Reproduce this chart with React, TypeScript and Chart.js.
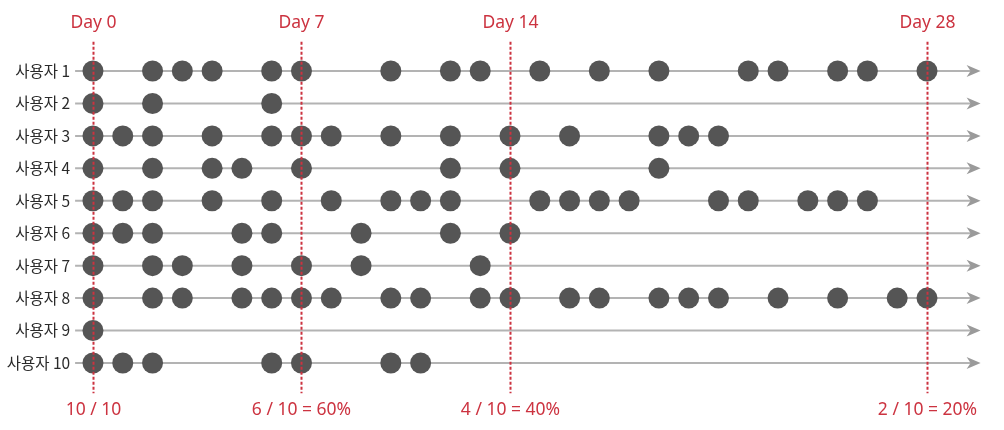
import React, { useEffect, useRef } from "react";
import { Chart, registerables } from "chart.js";

Chart.register(...registerables);

const userLabels = ["사용자 1", "사용자 2", "사용자 3", "사용자 4", "사용자 5", "사용자 6", "사용자 7", "사용자 8", "사용자 9", "사용자 10"];

const user1 = [0, 2, 3, 4, 6, 7, 10, 12, 13, 15, 17, 19, 22, 23, 25, 26, 28];
const user2 = [0, 2, 6];
const user3 = [0, 1, 2, 4, 6, 7, 8, 10, 12, 14, 16, 19, 20, 21];
const user4 = [0, 2, 4, 5, 7, 12, 14, 19];
const user5 = [0, 1, 2, 4, 6, 8, 10, 11, 12, 15, 16, 17, 18, 21, 22, 24, 25, 26];
const user6 = [0, 1, 2, 5, 6, 9, 12, 14];
const user7 = [0, 2, 3, 5, 7, 9, 13];
const user8 = [0, 2, 3, 5, 6, 7, 8, 10, 11, 13, 14, 16, 17, 19, 20, 21, 23, 25, 27, 28];
const user9 = [0];
const user10 = [0, 1, 2, 6, 7, 10, 11];

const userDays = [user1, user2, user3, user4, user5, user6, user7, user8, user9, user10];

const markerDays = [0, 7, 14, 28];
const markerTopLabels = ["Day 0", "Day 7", "Day 14", "Day 28"];
const markerBottomLabels = ["10 / 10", "6 / 10 = 60%", "4 / 10 = 40%", "2 / 10 = 20%"];

const RED = "#cc3340";
const DOT = "#555555";
const LINE = "#b3b3b3";

const rowLinesPlugin = {
  id: "rowLines",
  beforeDatasetsDraw(chart: any) {
    const { ctx, chartArea, scales } = chart;
    const y = scales.y;
    ctx.save();
    for (let i = 1; i <= userLabels.length; i++) {
      const py = y.getPixelForValue(i);
      const x0 = chartArea.left;
      const x1 = chartArea.right;
      ctx.strokeStyle = LINE;
      ctx.lineWidth = 2;
      ctx.beginPath();
      ctx.moveTo(x0, py);
      ctx.lineTo(x1 - 8, py);
      ctx.stroke();
      ctx.fillStyle = "#9a9a9a";
      ctx.beginPath();
      ctx.moveTo(x1, py);
      ctx.lineTo(x1 - 14, py - 6);
      ctx.lineTo(x1 - 10, py);
      ctx.lineTo(x1 - 14, py + 6);
      ctx.closePath();
      ctx.fill();
    }
    ctx.restore();
  },
};

const markerPlugin = {
  id: "markers",
  afterDatasetsDraw(chart: any) {
    const { ctx, chartArea, scales } = chart;
    const x = scales.x;
    const y = scales.y;
    ctx.save();
    markerDays.forEach((d, i) => {
      const px = Math.round(x.getPixelForValue(d)) + 0.5;
      ctx.strokeStyle = RED;
      ctx.lineWidth = 2;
      ctx.setLineDash([3, 2]);
      ctx.beginPath();
      ctx.moveTo(px, y.getPixelForValue(0.1));
      ctx.lineTo(px, y.getPixelForValue(10.93));
      ctx.stroke();
      ctx.setLineDash([]);
      ctx.fillStyle = RED;
      ctx.font = "17.5px 'Noto Sans'";
      ctx.textAlign = "center";
      ctx.textBaseline = "middle";
      ctx.fillText(markerTopLabels[i], px, chartArea.top - 16);
      ctx.fillText(markerBottomLabels[i], px, chartArea.bottom + 15);
    });
    ctx.restore();
  },
};

export default function App() {
  const canvasRef = useRef<HTMLCanvasElement | null>(null);

  useEffect(() => {
    document.body.style.margin = "0";
    const canvas = canvasRef.current;
    if (!canvas) return;
    const datasets = userDays.map((days, idx) => ({
      label: userLabels[idx],
      data: days.map((d) => ({ x: d, y: idx + 1 })),
      backgroundColor: DOT,
      borderWidth: 0,
      pointRadius: 10.5,
      pointHoverRadius: 10.5,
    }));
    const chart = new Chart(canvas, {
      type: "scatter",
      data: { datasets },
      plugins: [rowLinesPlugin, markerPlugin],
      options: {
        animation: false,
        responsive: true,
        maintainAspectRatio: false,
        layout: { padding: { top: 38.6, bottom: 34.6, right: 23.4, left: 0 } },
        plugins: { legend: { display: false }, tooltip: { enabled: false } },
        scales: {
          x: {
            type: "linear",
            min: -0.6,
            max: 29.8,
            display: false,
          },
          y: {
            type: "linear",
            min: 0,
            max: 11,
            reverse: true,
            grid: { display: false, drawTicks: false },
            border: { display: false },
            afterFit: (scale: any) => {
              scale.width = 75.1;
            },
            afterBuildTicks: (scale: any) => {
              scale.ticks = userLabels.map((_, i) => ({ value: i + 1 }));
            },
            ticks: {
              padding: 5,
              color: "#2a2a2a",
              font: { family: "'Noto Sans CJK KR'", size: 15.5 },
              callback: (v: any) => {
                const n = Number(v);
                return n >= 1 && n <= userLabels.length ? userLabels[n - 1] : "";
              },
            },
          },
        },
      },
    });
    return () => chart.destroy();
  }, []);

  return (
    <div style={{ position: "relative", width: "1004px", height: "430px" }}>
      <canvas ref={canvasRef} />
    </div>
  );
}
